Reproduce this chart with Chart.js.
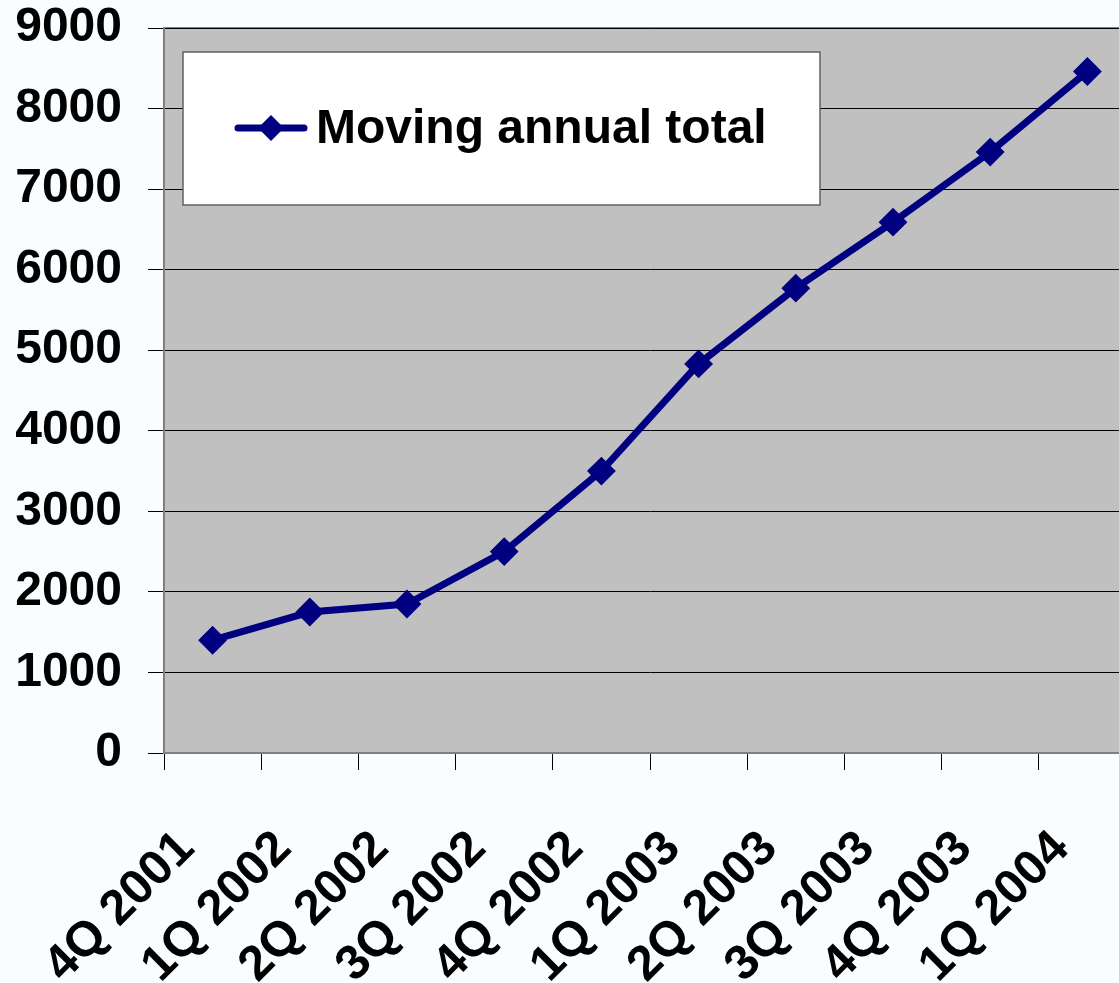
<!DOCTYPE html>
<html>
<head>
<meta charset="utf-8">
<script src="https://cdn.jsdelivr.net/npm/chart.js@4"></script>
<style>
  html, body { margin: 0; padding: 0; background: #F9FDFF; overflow: hidden; }
  #wrap { width: 1151px; height: 983px; }
</style>
</head>
<body>
<div id="wrap"><canvas id="matChart" width="1151" height="983"></canvas></div>
<script>
// data
const quarters = ['4Q 2001', '1Q 2002', '2Q 2002', '3Q 2002', '4Q 2002',
                  '1Q 2003', '2Q 2003', '3Q 2003', '4Q 2003', '1Q 2004'];
const movingTotal = [1400, 1750, 1850, 2500, 3500, 4830, 5770, 6590, 7460, 8460];
const yTicks = [0, 1000, 2000, 3000, 4000, 5000, 6000, 7000, 8000, 9000];
const seriesName = 'Moving annual total';

const navy = '#000080';
const font = 'Liberation Sans, Arial, sans-serif';

// grey plot area + its frame
const plotBg = {
    id: 'plotBg',
    beforeDraw(chart) {
        const { ctx, chartArea: a } = chart;
        ctx.save();
        ctx.fillStyle = '#C0C0C0';
        ctx.fillRect(a.left, a.top, a.right - a.left, a.bottom - a.top);
        ctx.strokeStyle = '#808080';
        ctx.lineWidth = 2;
        ctx.beginPath();
        ctx.moveTo(a.left, a.top);
        ctx.lineTo(a.right, a.top);
        ctx.stroke();
        ctx.restore();
    }
};

// legend box drawn inside the plot like the original
const boxLegend = {
    id: 'boxLegend',
    afterDatasetsDraw(chart) {
        const ctx = chart.ctx;
        ctx.save();
        ctx.fillStyle = '#FFFFFF';
        ctx.fillRect(183, 52, 637, 153);
        ctx.strokeStyle = '#606060';
        ctx.lineWidth = 1.5;
        ctx.strokeRect(183, 52, 637, 153);
        ctx.strokeStyle = navy;
        ctx.lineWidth = 7;
        ctx.lineCap = 'round';
        ctx.beginPath();
        ctx.moveTo(238, 128);
        ctx.lineTo(304, 128);
        ctx.stroke();
        ctx.fillStyle = navy;
        ctx.beginPath();
        ctx.moveTo(271, 115);
        ctx.lineTo(284, 128);
        ctx.lineTo(271, 141);
        ctx.lineTo(258, 128);
        ctx.closePath();
        ctx.fill();
        ctx.fillStyle = '#000000';
        ctx.font = 'bold 48px ' + font;
        ctx.textBaseline = 'middle';
        ctx.textAlign = 'left';
        ctx.fillText(chart.data.datasets[0].label, 316, 130);
        ctx.restore();
    }
};

const ctx = document.getElementById('matChart').getContext('2d');
const matChart = new Chart(ctx, {
    type: 'line',
    data: {
        labels: quarters,
        datasets: [{
            label: seriesName,
            data: movingTotal,
            borderColor: navy,
            backgroundColor: navy,
            borderWidth: 7,
            pointStyle: 'rectRot',
            pointRadius: 13,
            pointBorderWidth: 2,
            pointBackgroundColor: navy,
            pointBorderColor: navy,
            tension: 0
        }]
    },
    options: {
        responsive: false,
        animation: false,
        layout: { padding: { top: 28, right: 0, bottom: 0, left: 0 } },
        plugins: {
            legend: { display: false },
            tooltip: { enabled: false }
        },
        scales: {
            x: {
                type: 'category',
                offset: true,
                afterFit(scale) {
                    scale.height = 230;
                    scale.paddingLeft = 0;
                    scale.paddingRight = 0;
                },
                grid: {
                    offset: true,
                    drawOnChartArea: false,
                    drawTicks: true,
                    tickLength: 17,
                    color: '#000000',
                    lineWidth: 1
                },
                border: { color: '#808080', width: 2 },
                ticks: {
                    minRotation: 45,
                    maxRotation: 45,
                    autoSkip: false,
                    padding: 50,
                    labelOffset: -26,
                    color: '#000000',
                    font: { family: font, size: 49, weight: 'bold' }
                }
            },
            y: {
                min: 0,
                max: 9000,
                afterFit(scale) {
                    scale.width = 164;
                    scale.paddingTop = 0;
                    scale.paddingBottom = 0;
                },
                afterBuildTicks(scale) { scale.ticks = yTicks.map(v => ({ value: v })); },
                grid: {
                    color: '#000000',
                    lineWidth: 1,
                    tickLength: 16
                },
                border: { color: '#808080', width: 2 },
                ticks: {
                    padding: 26,
                    color: '#000000',
                    font: { family: font, size: 48, weight: 'bold' },
                    callback: v => String(v)
                }
            }
        }
    },
    plugins: [plotBg, boxLegend]
});
</script>
</body>
</html>
